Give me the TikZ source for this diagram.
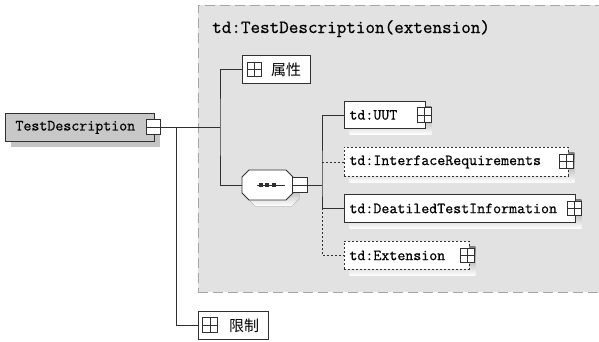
\documentclass[tikz,border=0pt]{standalone}
\usepackage{fontspec}
\newfontfamily\cjk{Noto Sans CJK SC}
\newfontfamily\codefont{Latin Modern Mono}[FakeBold=0.7]
\definecolor{linegray}{HTML}{303030}
\definecolor{panel}{HTML}{E2E2E2}
\definecolor{shade}{HTML}{B4B4B4}
\definecolor{rootfill}{HTML}{C8C8C8}
\definecolor{rootshade}{HTML}{C4C4C4}
\pgfdeclarelayer{back}
\pgfdeclarelayer{shadow}
\pgfsetlayers{back,shadow,main}
\tikzset{
  conn/.style={draw=linegray, line width=0.9pt},
  optconn/.style={conn, dash pattern=on 2pt off 2pt},
  elem/.style={draw=linegray, line width=0.9pt, fill=white,
    anchor=north west, inner xsep=5pt, inner ysep=0pt, align=left,
    font=\codefont\fontsize{15.5}{16}\selectfont},
  optelem/.style={elem, dash pattern=on 2pt off 2pt},
  group/.style={draw=linegray, line width=0.9pt, fill=white, anchor=north west,
    inner sep=0pt},
  icon/.style={draw=linegray, line width=0.8pt, fill=white, minimum size=14.5pt,
    inner sep=0pt},
  plusicon/.style={icon, path picture={
    \draw[linegray, line width=0.8pt]
      (path picture bounding box.north) -- (path picture bounding box.south)
      (path picture bounding box.west) -- (path picture bounding box.east);}},
  minusicon/.style={icon, path picture={
    \draw[linegray, line width=0.8pt]
      (path picture bounding box.west) -- (path picture bounding box.east);}},
}
% shadow of a box node, offset down and right
\newcommand\boxshadow[2][shade]{%
  \begin{pgfonlayer}{shadow}
    \fill[#1] ([shift={(5.5,5.5)}]#2.north west) rectangle ([shift={(5.5,5.5)}]#2.south east);
  \end{pgfonlayer}}
\begin{document}
\begin{tikzpicture}[x=1pt, y=-1pt]
\useasboundingbox (0,0) rectangle (599,341);
\clip (0,0) rectangle (599,341);

% extension panel
\begin{pgfonlayer}{back}
\node (panel) [draw=gray!70, fill=panel, line width=0.9pt,
  dash pattern=on 10pt off 5pt, anchor=north west, inner sep=0pt,
  minimum width=420pt, minimum height=287pt] at (198,5) {};
\end{pgfonlayer}
\node (title) [anchor=base west, inner sep=0pt,
  font=\codefont\fontsize{18.6}{20}\selectfont] at (212,33)
  {td:TestDescription(extension)};

% root element
\node (root) [draw=linegray, line width=0.9pt, fill=rootfill,
  anchor=north west, minimum height=28pt, text width=139pt, inner xsep=5pt,
  inner ysep=0pt, align=left, font=\codefont\fontsize{15.5}{16}\selectfont]
  at (5,113) {\hspace*{5pt}TestDescription};
\boxshadow[rootshade]{root}
\node (rootm) [minusicon] at (153.5,127) {};

% attribute group
\node (attr) [group, minimum width=68pt, minimum height=28pt] at (242,55) {};
\node (attrp) [plusicon] at (254.5,69.5) {};
\node (attrt) [anchor=west, inner sep=0pt, font=\cjk\fontsize{15}{16}\selectfont]
  at (271,69.5) {属性};

% restriction group
\node (lim) [group, minimum width=70pt, minimum height=28pt] at (198,311) {};
\node (limp) [plusicon] at (210,325) {};
\node (limt) [anchor=west, inner sep=0pt, font=\cjk\fontsize{15}{16}\selectfont]
  at (229,325.5) {限制};

% sequence compositor
\coordinate (seqc) at (267.5,185);
\begin{pgfonlayer}{shadow}
\fill[shade] (249+6,170+6) -- (286+6,170+6) -- (293+6,177+6) -- (293+6,193+6)
  -- (286+6,200+6) -- (249+6,200+6) -- (242+6,193+6) -- (242+6,177+6) -- cycle;
\end{pgfonlayer}
\draw[linegray, line width=0.9pt, fill=white]
  (249,170) -- (286,170) -- (293,177) -- (293,193) -- (286,200) -- (249,200)
  -- (242,193) -- (242,177) -- cycle;
\node (seq) [inner sep=0pt, minimum width=51pt, minimum height=30pt] at (seqc) {};
\draw[linegray, line width=0.9pt] (257,185) -- (285,185);
\foreach \dx in {260.5,267,273.5}
  \fill[linegray] (\dx-2,183) rectangle (\dx+2,187);
\node (seqm) [minusicon] at (300,185) {};

% child elements
\node (uut) [elem, minimum height=27pt, text width=71pt] at (344,101) {td:UUT};
\boxshadow{uut}
\node (uutp) [plusicon] at (424.5,115) {};
\node (ifr) [optelem, minimum height=29pt, text width=214pt] at (344,147)
  {td:InterfaceRequirements};
\boxshadow{ifr}
\node (ifrp) [plusicon] at (566.5,161.5) {};
\node (dti) [elem, minimum height=28pt, text width=221pt] at (344,194)
  {td:DeatiledTestInformation};
\boxshadow{dti}
\node (dtip) [plusicon] at (574.5,208.5) {};
\node (ext) [optelem, minimum height=28pt, text width=115pt] at (344,241)
  {td:Extension};
\boxshadow{ext}
\node (extp) [plusicon] at (467.5,255.5) {};

% connectors
\coordinate (j1) at (220,127);
\coordinate (j2) at (176,127);
\coordinate (j3) at (322,185);
\draw[conn] (rootm.east) -- (j1);
\draw[conn] (attr.west) -| (j1) |- (seq.west);
\draw[conn] (j2) |- (lim.west);
\draw[conn] (seqm.east) -- (j3);
\draw[conn] (uut.west) -| (j3) |- (dti.west);
\draw[optconn] (j3 |- ifr.west) -- (ifr.west);
\draw[optconn] (dti.west -| j3) |- (ext.west);
\end{tikzpicture}
\end{document}
